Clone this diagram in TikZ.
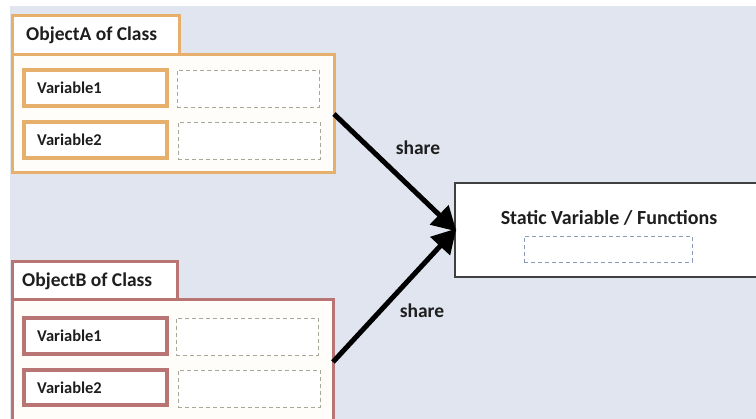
\documentclass[tikz,border=0pt]{standalone}
\usepackage{fontspec}
\setmainfont{Carlito}
\usetikzlibrary{arrows.meta}
\definecolor{canvas}{HTML}{E0E5F0}
\definecolor{orangeedge}{HTML}{E6B06C}
\definecolor{roseedge}{HTML}{B97474}
\definecolor{bodyfill}{HTML}{FFFDF9}
\definecolor{dashgray}{HTML}{A8A89A}
\definecolor{dashblue}{HTML}{8A9AB8}
\definecolor{inkdark}{HTML}{1E1E1E}
\tikzset{
  box/.style={rectangle, anchor=north west, inner sep=0pt, outer sep=0pt},
  titlebox/.style={box, fill=white, line width=3pt},
  bodybox/.style={box, fill=bodyfill, line width=3pt},
  varbox/.style={box, fill=white, line width=3.5pt, minimum width=143pt, minimum height=36pt},
  slotbox/.style={box, fill=white, draw=dashgray, dashed, dash pattern=on 4pt off 3pt, line width=0.8pt, minimum width=142pt, minimum height=37pt},
  titletext/.style={anchor=west, font=\bfseries\fontsize{19.5}{22}\selectfont, text=inkdark, inner sep=0pt},
  vartext/.style={anchor=west, font=\bfseries\fontsize{16.5}{19}\selectfont, text=inkdark, inner sep=0pt},
  sharetext/.style={font=\bfseries\fontsize{19.5}{22}\selectfont, text=inkdark, inner sep=0pt},
  sharearrow/.style={line width=5pt, -{Triangle[length=24pt,width=26pt]}, shorten >=-2pt},
}
\begin{document}
\begin{tikzpicture}[x=1pt,y=-1pt]
  % page area with a thin white margin on top and left
  \fill[white] (0,0) rectangle (756,419);
  \fill[canvas] (10,6) rectangle (756,419);
  \useasboundingbox (0,0) rectangle (756,419);

  \begin{scope}
    \clip (0,0) rectangle (756,419);

    % ---- Object A ----
    \node[bodybox, draw=orangeedge, minimum width=322pt, minimum height=118pt] (bodyA) at (12,55) {};
    \node[titlebox, draw=orangeedge, minimum width=167pt, minimum height=39pt] (titleA) at (12,16) {};
    \node[titletext] (titleAtext) at ([xshift=14pt]titleA.west) {ObjectA of Class};
    \node[varbox, draw=orangeedge] (varA1) at (24,70) {};
    \node[vartext] (varA1text) at ([xshift=13pt]varA1.west) {Variable1};
    \node[slotbox] (slotA1) at (177,70) {};
    \node[varbox, draw=orangeedge] (varA2) at (24,122) {};
    \node[vartext] (varA2text) at ([xshift=13pt]varA2.west) {Variable2};
    \node[slotbox] (slotA2) at (178,122) {};

    % ---- Object B (its lower edge runs off the page) ----
    \node[bodybox, draw=roseedge, minimum width=321pt, minimum height=124pt] (bodyB) at (12,300) {};
    \node[titlebox, draw=roseedge, minimum width=165pt, minimum height=38pt] (titleB) at (12,262) {};
    \node[titletext] (titleBtext) at ([xshift=10pt]titleB.west) {ObjectB of Class};
    \node[varbox, draw=roseedge] (varB1) at (24,318) {};
    \node[vartext] (varB1text) at ([xshift=13pt]varB1.west) {Variable1};
    \node[slotbox] (slotB1) at (176,318) {};
    \node[varbox, draw=roseedge, minimum height=35pt] (varB2) at (24,370) {};
    \node[vartext] (varB2text) at ([xshift=13pt]varB2.west) {Variable2};
    \node[slotbox] (slotB2) at (178,370) {};

    % ---- shared static part ----
    \node[box, fill=white, draw=black!75, line width=1.3pt, minimum width=305pt, minimum height=94pt] (static) at (455,183) {};
    \node[sharetext, font=\bfseries\fontsize{20}{22}\selectfont] (statictext) at (609,218) {Static Variable / Functions};
    \node[box, draw=dashblue, dashed, dash pattern=on 4pt off 3pt, line width=0.8pt, minimum width=168pt, minimum height=26pt] (staticslot) at (524,236) {};

    % ---- share connectors ----
    \draw[sharearrow] (bodyA.east) -- (static.west);
    \draw[sharearrow] (bodyB.east) -- (static.west);
    \node[sharetext] (shareA) at (418,148) {share};
    \node[sharetext] (shareB) at (422,311) {share};
  \end{scope}
\end{tikzpicture}
\end{document}
